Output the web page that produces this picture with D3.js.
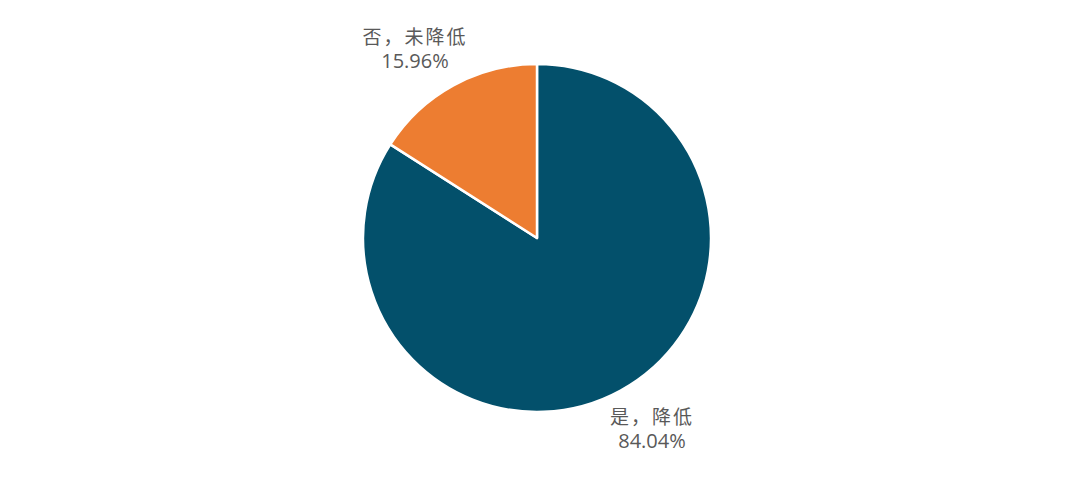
<!DOCTYPE html>
<html lang="zh">
<head>
    <meta charset="UTF-8">
    <title>是否降低</title>
    <script src="https://d3js.org/d3.v7.min.js"></script>
    <style>
        body {
            margin: 0;
            padding: 0;
            background: #fff;
        }
    </style>
</head>
<body>
<svg id="chart" width="1080" height="486"></svg>
<script>
    var categories = ['是，降低', '否，未降低'];
    var values = [84.04, 15.96];
    var valueLabels = ['84.04%', '15.96%'];
    var colors = ['#03506b', '#ed7d31'];

    (function () {
        var svg = d3.select('#chart');
        var cx = 537, cy = 238, radius = 174;

        var pie = d3.pie().sort(null).value(function (d) { return d; });
        var arcs = pie(values);
        var arc = d3.arc().innerRadius(0).outerRadius(radius);

        var g = svg.append('g').attr('transform', 'translate(' + cx + ',' + cy + ')');

        g.selectAll('path')
            .data(arcs)
            .enter().append('path')
            .attr('d', arc)
            .attr('fill', function (d, i) { return colors[i]; })
            .attr('stroke', '#fff')
            .attr('stroke-width', 2.5)
            .attr('stroke-linejoin', 'round');

        // label offsets from the pie centre (first line baseline)
        var labelPos = [[115, 186], [-122, -194]];

        var labels = g.selectAll('g.lbl')
            .data(arcs)
            .enter().append('g')
            .attr('class', 'lbl')
            .attr('text-anchor', 'middle')
            .attr('fill', '#595959')
            .attr('transform', function (d, i) {
                return 'translate(' + labelPos[i][0] + ',' + labelPos[i][1] + ')';
            });
        labels.append('text')
            .attr('font-family', '"Noto Sans CJK SC", sans-serif')
            .attr('font-size', '19px')
            .attr('letter-spacing', '2px')
            .text(function (d, i) { return categories[i]; });
        labels.append('text')
            .attr('y', 24)
            .attr('font-family', '"Open Sans", sans-serif')
            .attr('font-size', '20px')
            .text(function (d, i) { return valueLabels[i]; });
    })();
</script>
</body>
</html>
